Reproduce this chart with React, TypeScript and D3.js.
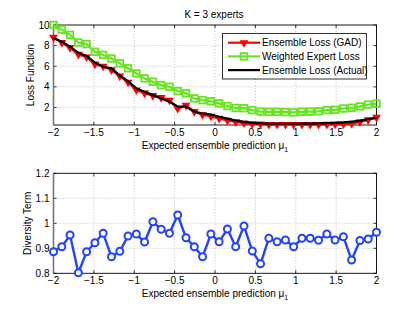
import * as d3 from "d3";
import { useEffect, useRef } from "react";

// sample points of the expected ensemble prediction
const mu = [-2, -1.897, -1.795, -1.692, -1.59, -1.487, -1.385, -1.282, -1.179, -1.077,
  -0.974, -0.872, -0.769, -0.667, -0.564, -0.462, -0.359, -0.256, -0.154, -0.051,
  0.051, 0.154, 0.256, 0.359, 0.462, 0.564, 0.667, 0.769, 0.872, 0.974,
  1.077, 1.179, 1.282, 1.385, 1.487, 1.59, 1.692, 1.795, 1.897, 2];

const gadLoss = [8.8, 8.3, 7.8, 7.15, 6.9, 6.2, 6.0, 5.65, 5.05, 4.45,
  3.7, 3.4, 3.15, 2.95, 2.7, 1.9, 2.2, 1.6, 1.3, 1.15,
  0.95, 0.75, 0.6, 0.5, 0.42, 0.38, 0.35, 0.35, 0.35, 0.35,
  0.35, 0.35, 0.35, 0.36, 0.38, 0.4, 0.45, 0.6, 0.8, 1.05];

const expertLoss = [10.0, 9.55, 9.05, 8.3, 8.15, 7.4, 7.1, 6.75, 6.28, 5.8,
  5.31, 4.82, 4.5, 4.17, 4.01, 3.59, 3.37, 2.88, 2.72, 2.6,
  2.4, 2.14, 1.95, 1.93, 1.75, 1.6, 1.57, 1.57, 1.55, 1.52,
  1.58, 1.6, 1.63, 1.75, 1.77, 1.9, 1.97, 2.1, 2.28, 2.37];

const actualLoss = [8.75, 8.38, 7.9, 7.3, 7.0, 6.35, 5.95, 5.8, 5.1, 4.55,
  3.85, 3.52, 3.2, 2.88, 2.55, 2.1, 2.07, 1.6, 1.42, 1.3,
  1.1, 0.92, 0.74, 0.6, 0.5, 0.45, 0.43, 0.42, 0.42, 0.42,
  0.43, 0.44, 0.46, 0.48, 0.5, 0.55, 0.62, 0.7, 0.88, 0.98];

const diversity = [0.886, 0.906, 0.953, 0.802, 0.886, 0.922, 0.96, 0.866, 0.888, 0.949,
  0.957, 0.925, 1.006, 0.976, 0.96, 1.033, 0.942, 0.906, 0.866, 0.957,
  0.926, 0.977, 0.906, 0.989, 0.889, 0.838, 0.94, 0.926, 0.933, 0.906,
  0.94, 0.94, 0.932, 0.957, 0.933, 0.946, 0.853, 0.931, 0.937, 0.964];

const xTicks = [-2, -1.5, -1, -0.5, 0, 0.5, 1, 1.5, 2];
const lossTicks = [2, 4, 6, 8, 10];
const divTicks = [0.8, 0.9, 1, 1.1, 1.2];
const legendLabels = ["Ensemble Loss (GAD)", "Weighted Expert Loss", "Ensemble Loss (Actual)"];

const RED = "#ff0000";
const GREEN = "#66e41e";
const BLUE = "#2443ff";
const FONT = "'Liberation Sans', Arial, sans-serif";

export default function App() {
  const ref = useRef<SVGSVGElement>(null);

  useEffect(() => {
    const svg = d3.select(ref.current);
    svg.selectAll("*").remove();

    const fmt = d3.format("~g");
    const x = d3.scaleLinear().domain([-2, 2]).range([53.5, 376.5]);
    const yLoss = d3.scaleLinear().domain([0.3, 10]).range([125, 25]);
    const yDiv = d3.scaleLinear().domain([0.8, 1.2]).range([273.3, 173.3]);

    // grid, frame, ticks and labels of one axes
    function drawAxes(y: d3.ScaleLinear<number, number>, yTicks: number[], ylabel: string, labelX: number) {
      const [y0, y1] = y.range();
      const g = svg.append("g");
      g.selectAll(".gx").data(xTicks.slice(1, -1)).enter().append("line")
        .attr("x1", d => x(d)).attr("x2", d => x(d))
        .attr("y1", y1).attr("y2", y0)
        .attr("stroke", "#b0b0b0").attr("stroke-width", 0.8).attr("stroke-dasharray", "1,2");
      g.selectAll(".gy").data(yTicks.filter(t => y(t) > y1 + 1 && y(t) < y0 - 1)).enter().append("line")
        .attr("x1", x(-2)).attr("x2", x(2))
        .attr("y1", d => y(d)).attr("y2", d => y(d))
        .attr("stroke", "#b0b0b0").attr("stroke-width", 0.8).attr("stroke-dasharray", "1,2");

      // tick marks, pointing in
      xTicks.forEach(t => {
        g.append("line").attr("x1", x(t)).attr("x2", x(t)).attr("y1", y0).attr("y2", y0 - 3).attr("stroke", "#000").attr("stroke-width", 0.8);
        g.append("line").attr("x1", x(t)).attr("x2", x(t)).attr("y1", y1).attr("y2", y1 + 3).attr("stroke", "#000").attr("stroke-width", 0.8);
      });
      yTicks.forEach(t => {
        g.append("line").attr("x1", x(-2)).attr("x2", x(-2) + 3).attr("y1", y(t)).attr("y2", y(t)).attr("stroke", "#000").attr("stroke-width", 0.8);
        g.append("line").attr("x1", x(2)).attr("x2", x(2) - 3).attr("y1", y(t)).attr("y2", y(t)).attr("stroke", "#000").attr("stroke-width", 0.8);
      });

      g.append("rect").attr("x", x(-2)).attr("y", y1).attr("width", x(2) - x(-2)).attr("height", y0 - y1)
        .attr("fill", "none").attr("stroke", "#000").attr("stroke-width", 0.9);
      g.append("line").attr("x1", x(-2)).attr("x2", x(-2)).attr("y1", y1).attr("y2", y0)
        .attr("stroke", "#777").attr("stroke-width", 1.6);

      g.selectAll(".xl").data(xTicks).enter().append("text")
        .attr("x", d => x(d)).attr("y", y0 + 11).attr("text-anchor", "middle")
        .attr("font-family", FONT).attr("font-size", 10).text(d => fmt(d));
      g.selectAll(".yl").data(yTicks).enter().append("text")
        .attr("x", x(-2) - 4).attr("y", d => y(d) + 3.5).attr("text-anchor", "end")
        .attr("font-family", FONT).attr("font-size", 10).text(d => fmt(d));

      const xl = g.append("text").attr("x", 215).attr("y", y0 + 24).attr("text-anchor", "middle")
        .attr("font-family", FONT).attr("font-size", 10).text("Expected ensemble prediction \u03bc");
      xl.append("tspan").attr("dy", 3).attr("font-size", 7).text("1");

      g.append("text").attr("transform", `translate(${labelX},${(y0 + y1) / 2}) rotate(-90)`)
        .attr("text-anchor", "middle").attr("font-family", FONT).attr("font-size", 10).text(ylabel);
    }

    drawAxes(yLoss, lossTicks, "Loss Function", 34);
    drawAxes(yDiv, divTicks, "Diversity Term", 31);

    svg.append("text").attr("x", 214).attr("y", 18).attr("text-anchor", "middle")
      .attr("font-family", FONT).attr("font-size", 10).text("K = 3 experts");

    const tri = d3.symbol().type(d3.symbolTriangle).size(34);

    // top plot
    const lineLoss = (vals: number[]) => d3.line<number>().x((_, i) => x(mu[i])).y(d => yLoss(d))(vals);
    const top = svg.append("g");
    top.append("path").attr("d", lineLoss(expertLoss)).attr("fill", "none").attr("stroke", GREEN).attr("stroke-width", 2.2);
    top.selectAll(".sq").data(expertLoss).enter().append("rect")
      .attr("x", (_, i) => x(mu[i]) - 3.3).attr("y", d => yLoss(d) - 3.3).attr("width", 6.6).attr("height", 6.6)
      .attr("fill", "none").attr("stroke", GREEN).attr("stroke-width", 1.8);
    top.append("path").attr("d", lineLoss(gadLoss)).attr("fill", "none").attr("stroke", RED).attr("stroke-width", 2.4);
    top.selectAll(".tr").data(gadLoss).enter().append("path")
      .attr("d", tri()).attr("transform", (d, i) => `translate(${x(mu[i])},${yLoss(d)}) rotate(180)`)
      .attr("fill", RED);
    top.append("path").attr("d", lineLoss(actualLoss)).attr("fill", "none").attr("stroke", "#000").attr("stroke-width", 2.2);

    // legend
    const lg = svg.append("g");
    lg.append("rect").attr("x", 222.5).attr("y", 33.5).attr("width", 144).attr("height", 45.5)
      .attr("fill", "#fff").attr("stroke", "#000").attr("stroke-width", 0.8);
    const colors = [RED, GREEN, "#000"];
    legendLabels.forEach((lab, i) => {
      const yy = 42.7 + i * 13.7;
      lg.append("line").attr("x1", 228).attr("x2", 260).attr("y1", yy).attr("y2", yy)
        .attr("stroke", colors[i]).attr("stroke-width", 2.2);
      if (i === 0) {
        lg.append("path").attr("d", tri()).attr("transform", `translate(244,${yy}) rotate(180)`).attr("fill", RED);
      } else if (i === 1) {
        lg.append("rect").attr("x", 240.7).attr("y", yy - 3.3).attr("width", 6.6).attr("height", 6.6)
          .attr("fill", "none").attr("stroke", GREEN).attr("stroke-width", 1.8);
      }
      lg.append("text").attr("x", 262).attr("y", yy + 3.5).attr("font-family", FONT).attr("font-size", 10).text(lab);
    });

    // bottom plot
    const bot = svg.append("g");
    bot.append("path").attr("d", d3.line<number>().x((_, i) => x(mu[i])).y(d => yDiv(d))(diversity))
      .attr("fill", "none").attr("stroke", BLUE).attr("stroke-width", 2.4);
    bot.selectAll("circle").data(diversity).enter().append("circle")
      .attr("cx", (_, i) => x(mu[i])).attr("cy", d => yDiv(d)).attr("r", 3.5)
      .attr("fill", "#fff").attr("stroke", BLUE).attr("stroke-width", 2);
  }, []);

  return (
    <svg ref={ref} width={415} height={312} style={{ position: "absolute", left: 0, top: 0, background: "#fff" }}></svg>
  );
}
